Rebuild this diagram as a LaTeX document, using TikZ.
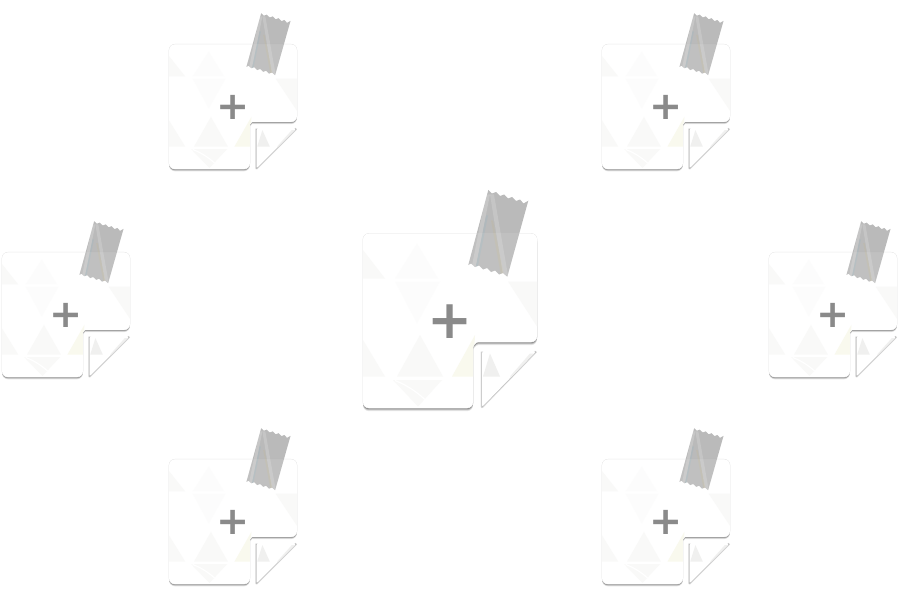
\documentclass[tikz,border=0pt]{standalone}
\usepackage{fontspec}
\usepackage{tikz}
\setmainfont{DejaVu Sans}
\definecolor{ink}{HTML}{8A8A8A}
\definecolor{tapegray}{HTML}{B6B6B6}
\definecolor{facet}{HTML}{F9F9F8}
\definecolor{flapfacet}{HTML}{F0F0EF}
\definecolor{edgegray}{HTML}{E2E2E2}
\newcommand{\sheetoutline}{(-87,-87) -- (87,-87) -- (87,21.5) -- (34,21.5) .. controls (26,21.5) and (23,25) .. (23,33) -- (23,87.5) -- (-87,87.5) -- cycle}
\newcommand{\flapoutline}{(32,31) -- (86,31) -- (32,86.5) -- cycle}
\newcommand{\tapeoutline}{(38.3,-130.5) -- (42,-127) -- (46,-128.5) -- (50,-124.5) -- (54,-126) -- (58,-122) -- (62,-123.5) -- (66,-119.5) -- (70,-121) -- (73.5,-117) -- (78.3,-119.8)
  -- (57.3,-43.8) -- (53,-47.5) -- (49,-46) -- (45,-50) -- (41,-48.5) -- (37,-52.5) -- (33,-51) -- (29,-55) -- (25,-53.5) -- (21,-57) -- (18.3,-55.5) -- cycle}
\tikzset{
  facetfill/.style={fill=facet,draw=none},
  pics/stickynote/.style={code={
    % shadow under the sheet
    \foreach \drop/\op in {3.2/0.10,2.2/0.18,1.2/0.28}{
      \fill[black,opacity=\op,rounded corners=6pt,yshift=-\drop] \sheetoutline;
    }
    \draw[edgegray,line width=.7pt,rounded corners=6pt] \sheetoutline;
    \fill[white,rounded corners=6pt] \sheetoutline;
    % faint facets
    \begin{scope}
      \clip[rounded corners=6pt] \sheetoutline;
      \fill[facetfill] (-87,-70.5) -- (-65,-42) -- (-87,-42) -- cycle;
      \fill[facetfill,opacity=.4] (-55,-42) -- (-33,-77) -- (-12,-42) -- cycle;
      \fill[facetfill,opacity=.4] (-55,-39) -- (-10,-39) -- (-33,3) -- cycle;
      \fill[facetfill] (58,-39) -- (87,-39) -- (87,6) -- cycle;
      \fill[facetfill] (-87,19.5) -- (-65,56) -- (-87,56) -- cycle;
      \fill[facetfill] (-53,56) -- (-30,14.5) -- (-7,56) -- cycle;
      \fill[fill=facet!96!yellow] (2,56) -- (25,14.5) -- (23,56) -- cycle;
      \fill[facetfill] (-57,59.5) -- (-8,59.5) -- (-32,86) -- cycle;
      \draw[white,line width=1.2pt] (-55,60) .. controls (-40,66) and (-30,74) .. (-22,82);
    \end{scope}
    % the curled corner
    \draw[black,opacity=.1,line width=2.6pt,line join=round] (32,31) -- (32,86.5) -- (86,31);
    \draw[black,opacity=.16,line width=1.4pt,line join=round] (32,31) -- (32,86.5) -- (86,31);
    \fill[white,rounded corners=2pt] \flapoutline;
    \begin{scope}
      \clip \flapoutline;
      \fill[fill=flapfacet] (33,56) -- (40,33) -- (50,56) -- cycle;
      \fill[fill=flapfacet] (60,56) -- (80,33) -- (86,33) -- (70,56) -- cycle;
    \end{scope}
    % tape
    \fill[tapegray,opacity=.95] \tapeoutline;
    \begin{scope}
      \clip \tapeoutline;
      \fill[white,opacity=.1] (-87,-87) rectangle (87,-30);
      \fill[white,opacity=.18] (36,-126) -- (40,-126) -- (25,-50) -- (21,-50) -- cycle;
      \fill[white,opacity=.16] (40,-126) -- (44,-126) -- (58,-45) -- (53,-45) -- cycle;
      \fill[yellow!60!orange,opacity=.05] (41,-100) -- (43,-100) -- (54,-45) -- (51,-45) -- cycle;
      \fill[cyan,opacity=.05] (36,-105) -- (38,-105) -- (27,-50) -- (25,-50) -- cycle;
    \end{scope}
    % plus sign
    \node[text=ink,inner sep=0pt,transform shape,font=\fontsize{54}{54}\selectfont\bfseries] (plus) at (0,1) {+};
  }}
}
\begin{document}
\begin{tikzpicture}[x=1bp,y=-1bp]
\useasboundingbox (0,0) rectangle (900,600);
\pic (center) at (450,320.5) {stickynote};
\pic[xscale=0.735,yscale=0.715] (topleft) at (233,106.5) {stickynote};
\pic[xscale=0.735,yscale=0.715] (topright) at (666,106.5) {stickynote};
\pic[xscale=0.735,yscale=0.715] (midleft) at (66,314.5) {stickynote};
\pic[xscale=0.735,yscale=0.715] (midright) at (833,314.5) {stickynote};
\pic[xscale=0.735,yscale=0.715] (botleft) at (233,521.5) {stickynote};
\pic[xscale=0.735,yscale=0.715] (botright) at (666,521.5) {stickynote};
\end{tikzpicture}
\end{document}
